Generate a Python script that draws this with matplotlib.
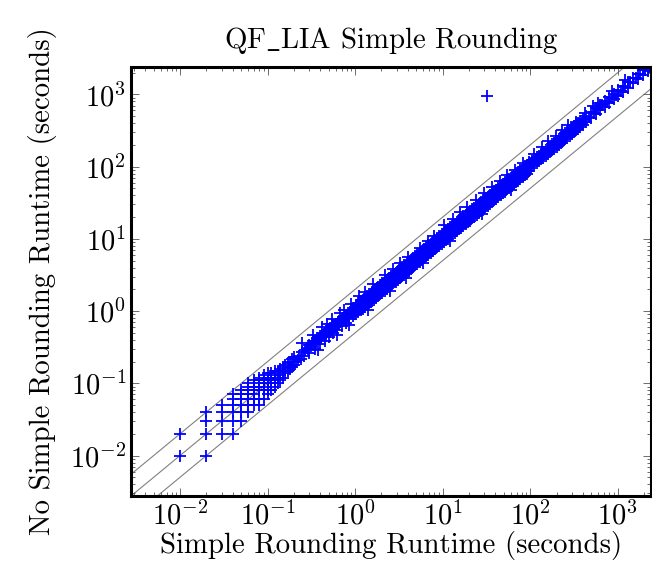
import numpy as np
import matplotlib
matplotlib.use("Agg")
import matplotlib.pyplot as plt
from matplotlib.ticker import LogLocator, NullFormatter

plt.rcParams['font.family'] = 'serif'
plt.rcParams['font.serif'] = ['cmr10']
plt.rcParams['mathtext.fontset'] = 'cm'
plt.rcParams['axes.formatter.use_mathtext'] = True

title = r'QF$\_$LIA Simple Rounding'
xlabel = 'Simple Rounding Runtime (seconds)'
ylabel = 'No Simple Rounding Runtime (seconds)'
tick_vals = [1e-2, 1e-1, 1e0, 1e1, 1e2, 1e3]

# fast instances, times quantized to 0.01 s
x_fast = [0.01, 0.01, 0.02, 0.02, 0.02, 0.02, 0.03, 0.03, 0.03, 0.03,
          0.04, 0.04, 0.04, 0.04, 0.04, 0.04, 0.05, 0.05, 0.05, 0.05, 0.05, 0.05,
          0.06, 0.06, 0.06, 0.06, 0.06, 0.06, 0.06, 0.07, 0.07, 0.07, 0.07, 0.07, 0.07,
          0.08, 0.08, 0.08, 0.08, 0.08, 0.08, 0.08, 0.09, 0.09, 0.09, 0.09, 0.09, 0.09,
          0.1, 0.1, 0.1, 0.1, 0.1, 0.1, 0.11, 0.11, 0.11, 0.11, 0.12, 0.12, 0.12, 0.12,
          0.13, 0.13, 0.13, 0.14, 0.14, 0.14, 0.15, 0.15, 0.15, 0.16, 0.16, 0.17, 0.17,
          0.18, 0.18, 0.19, 0.19, 0.2, 0.2, 0.21, 0.22, 0.23, 0.24, 0.25, 0.26, 0.27]
y_fast = [0.01, 0.02, 0.01, 0.02, 0.03, 0.04, 0.02, 0.03, 0.04, 0.05,
          0.02, 0.03, 0.04, 0.05, 0.06, 0.07, 0.03, 0.04, 0.05, 0.06, 0.07, 0.08,
          0.04, 0.05, 0.06, 0.07, 0.08, 0.09, 0.1, 0.05, 0.06, 0.07, 0.08, 0.09, 0.11,
          0.05, 0.06, 0.08, 0.09, 0.1, 0.11, 0.12, 0.06, 0.08, 0.09, 0.1, 0.11, 0.13,
          0.07, 0.08, 0.1, 0.11, 0.12, 0.14, 0.08, 0.1, 0.12, 0.14, 0.09, 0.11, 0.13, 0.15,
          0.1, 0.12, 0.15, 0.11, 0.13, 0.16, 0.12, 0.15, 0.17, 0.14, 0.18, 0.15, 0.19,
          0.16, 0.2, 0.17, 0.22, 0.18, 0.23, 0.2, 0.21, 0.24, 0.22, 0.27, 0.24, 0.29]

x_d0 = [0.28, 0.3, 0.32, 0.33, 0.35, 0.37, 0.38, 0.4, 0.42, 0.45, 0.47, 0.5, 0.52,
        0.55, 0.58, 0.6, 0.63, 0.66, 0.7, 0.73, 0.77, 0.8, 0.84, 0.88, 0.92, 0.96,
        0.3, 0.35, 0.4, 0.45, 0.5, 0.56, 0.62, 0.7, 0.78, 0.86, 0.95]
y_d0 = [0.31, 0.34, 0.35, 0.38, 0.39, 0.42, 0.43, 0.45, 0.47, 0.5, 0.53, 0.56, 0.58,
        0.62, 0.64, 0.67, 0.7, 0.74, 0.78, 0.81, 0.86, 0.89, 0.93, 0.98, 1.02, 1.06,
        0.26, 0.3, 0.35, 0.39, 0.44, 0.49, 0.55, 0.62, 0.69, 0.77, 0.85]
x_d0b = [0.25, 0.33, 0.42, 0.48, 0.55, 0.68, 0.75, 0.9, 0.38, 0.62, 0.85]
y_d0b = [0.36, 0.47, 0.6, 0.66, 0.78, 0.95, 1.05, 1.25, 0.29, 0.47, 0.64]
x_d0m = [0.29, 0.31, 0.34, 0.36, 0.39, 0.41, 0.44, 0.46, 0.49, 0.51, 0.54, 0.57,
         0.59, 0.62, 0.65, 0.68, 0.72, 0.75, 0.79, 0.82, 0.86, 0.9, 0.94, 0.98]
y_d0m = [0.3, 0.33, 0.36, 0.37, 0.41, 0.42, 0.46, 0.47, 0.51, 0.52, 0.56, 0.59,
         0.6, 0.64, 0.67, 0.7, 0.74, 0.77, 0.82, 0.84, 0.89, 0.93, 0.97, 1.01]

x_d1 = [1.0, 1.06, 1.12, 1.19, 1.26, 1.33, 1.41, 1.5, 1.58, 1.68, 1.78, 1.88, 2.0,
        2.11, 2.24, 2.37, 2.51, 2.66, 2.82, 2.99, 3.16, 3.35, 3.55, 3.76, 3.98, 4.22,
        4.47, 4.73, 5.01, 5.31, 5.62, 5.96, 6.31, 6.68, 7.08, 7.5, 7.94, 8.41, 8.91, 9.44]
y_d1a = [1.1, 1.2, 1.3, 1.25, 1.4, 1.5, 1.45, 1.7, 1.75, 1.8, 2.1, 2.0, 2.3,
         2.4, 2.5, 2.6, 2.9, 3.0, 3.1, 3.4, 3.6, 3.7, 4.0, 4.2, 4.4, 4.8,
         5.0, 5.3, 5.6, 5.9, 6.3, 6.6, 7.0, 7.5, 7.8, 8.4, 8.8, 9.4, 9.9, 10.5]
y_d1b = [0.9, 1.0, 1.05, 1.1, 1.15, 1.2, 1.3, 1.35, 1.5, 1.55, 1.6, 1.75, 1.8,
         1.95, 2.1, 2.2, 2.3, 2.45, 2.6, 2.8, 2.9, 3.1, 3.3, 3.5, 3.6, 3.9,
         4.1, 4.4, 4.6, 4.9, 5.2, 5.5, 5.8, 6.2, 6.5, 6.9, 7.3, 7.8, 8.2, 8.7]
x_d1m = [1.03, 1.09, 1.16, 1.22, 1.29, 1.37, 1.45, 1.54, 1.63, 1.73, 1.83, 1.94, 2.05,
         2.17, 2.3, 2.44, 2.58, 2.74, 2.9, 3.07, 3.26, 3.45, 3.65, 3.87, 4.1, 4.34,
         4.6, 4.87, 5.16, 5.46, 5.79, 6.13, 6.49, 6.87, 7.29, 7.72, 8.18, 8.66, 9.17, 9.72]
y_d1m = [1.06, 1.08, 1.2, 1.24, 1.3, 1.42, 1.47, 1.58, 1.66, 1.78, 1.86, 1.98, 2.1,
         2.2, 2.36, 2.48, 2.64, 2.78, 2.98, 3.12, 3.34, 3.5, 3.74, 3.93, 4.2, 4.42,
         4.7, 4.95, 5.3, 5.55, 5.9, 6.25, 6.65, 7.0, 7.45, 7.85, 8.35, 8.8, 9.4, 9.9]
y_d1e = [1.22, 1.29, 1.37, 1.44, 1.52, 1.62, 1.71, 1.82, 1.92, 2.04, 2.16, 2.29, 2.42,
         2.56, 2.71, 2.88, 3.04, 3.23, 3.42, 3.62, 3.85, 4.07, 4.31, 4.57, 4.84, 5.12,
         5.43, 5.75, 6.09, 6.44, 6.83, 7.23, 7.66, 8.11, 8.6, 9.11, 9.65, 10.2, 10.8, 11.5]
y_d1f = [0.91, 0.96, 1.02, 1.07, 1.14, 1.21, 1.28, 1.36, 1.43, 1.52, 1.61, 1.71, 1.8,
         1.91, 2.02, 2.15, 2.27, 2.41, 2.55, 2.7, 2.87, 3.04, 3.21, 3.41, 3.61, 3.82,
         4.05, 4.29, 4.54, 4.8, 5.1, 5.39, 5.71, 6.05, 6.42, 6.79, 7.2, 7.62, 8.07, 8.55]
x_d1c = [1.1, 1.3, 1.6, 2.2, 2.7, 3.3, 4.0, 5.5, 6.8, 8.0, 1.4, 2.5, 3.8, 6.0]
y_d1c = [1.6, 1.85, 2.4, 3.2, 3.8, 4.7, 5.6, 7.5, 9.3, 11.0, 1.05, 1.9, 2.9, 4.6]

x_d2 = [10.0, 10.6, 11.2, 11.9, 12.6, 13.3, 14.1, 15.0, 15.8, 16.8, 17.8, 18.8, 20.0,
        21.1, 22.4, 23.7, 25.1, 26.6, 28.2, 29.9, 31.6, 33.5, 35.5, 37.6, 39.8, 42.2,
        44.7, 47.3, 50.1, 53.1, 56.2, 59.6, 63.1, 66.8, 70.8, 75.0, 79.4, 84.1, 89.1, 94.4]
y_d2a = [11.2, 11.8, 12.6, 13.1, 14.0, 14.9, 15.6, 16.8, 17.4, 18.7, 19.8, 20.5, 22.3,
         23.4, 24.8, 26.1, 28.0, 29.4, 31.0, 33.2, 35.1, 36.8, 39.3, 41.5, 43.8, 46.9,
         49.5, 52.0, 55.5, 58.6, 62.0, 65.9, 69.5, 74.0, 78.0, 83.0, 87.5, 93.0, 98.0, 104.0]
y_d2b = [9.2, 9.9, 10.4, 11.0, 11.6, 12.4, 13.0, 13.8, 14.6, 15.6, 16.4, 17.5, 18.4,
         19.6, 20.7, 21.9, 23.2, 24.6, 26.1, 27.6, 29.3, 31.0, 32.8, 34.8, 36.9, 39.0,
         41.3, 43.8, 46.4, 49.1, 52.0, 55.1, 58.4, 61.8, 65.5, 69.4, 73.5, 77.8, 82.4, 87.3]
x_d2m = [10.3, 10.9, 11.6, 12.2, 12.9, 13.7, 14.5, 15.4, 16.3, 17.3, 18.3, 19.4, 20.5,
         21.7, 23.0, 24.4, 25.8, 27.4, 29.0, 30.7, 32.6, 34.5, 36.5, 38.7, 41.0, 43.4,
         46.0, 48.7, 51.6, 54.6, 57.9, 61.3, 64.9, 68.7, 72.9, 77.2, 81.8, 86.6, 91.7, 97.2]
y_d2m = [10.5, 11.3, 11.8, 12.6, 13.4, 14.1, 15.0, 15.8, 16.9, 17.8, 18.9, 20.0, 21.2,
         22.3, 23.8, 25.1, 26.7, 28.2, 30.0, 31.6, 33.7, 35.5, 37.8, 39.8, 42.4, 44.7,
         47.6, 50.2, 53.4, 56.2, 59.9, 63.1, 67.2, 70.8, 75.4, 79.5, 84.6, 89.2, 94.9, 100.0]
y_d2e = [12.1, 13.0, 13.6, 14.5, 15.1, 16.3, 17.0, 18.3, 19.1, 20.5, 21.4, 23.0, 24.0,
         25.7, 27.0, 28.9, 30.2, 32.5, 34.0, 36.4, 38.2, 40.9, 42.8, 45.9, 48.0, 51.5,
         53.8, 57.7, 60.4, 64.7, 67.7, 72.6, 75.9, 81.4, 85.1, 91.2, 95.4, 102.0, 107.0, 115.0]
y_d2f = [9.0, 9.7, 10.1, 10.8, 11.3, 12.1, 12.7, 13.7, 14.2, 15.3, 16.0, 17.2, 17.9,
         19.2, 20.1, 21.6, 22.6, 24.3, 25.3, 27.2, 28.4, 30.6, 31.9, 34.3, 35.8, 38.5,
         40.2, 43.2, 45.1, 48.4, 50.6, 54.3, 56.7, 60.9, 63.6, 68.3, 71.3, 76.6, 80.0, 86.0]
x_d2c = [10.5, 13.0, 16.0, 19.0, 24.0, 30.0, 37.0, 45.0, 55.0, 68.0, 82.0, 12.0, 28.0, 60.0]
y_d2c = [15.5, 19.0, 23.5, 27.5, 35.0, 43.5, 53.0, 63.0, 76.0, 90.0, 112.0, 9.4, 22.0, 47.0]

x_d3 = [100.0, 106.0, 112.0, 119.0, 126.0, 133.0, 141.0, 150.0, 158.0, 168.0, 178.0,
        188.0, 200.0, 211.0, 224.0, 237.0, 251.0, 266.0, 282.0, 299.0, 316.0, 335.0,
        355.0, 376.0, 398.0, 440.0, 500.0, 560.0, 630.0, 710.0, 800.0, 900.0, 1000.0,
        1150.0, 1300.0, 1500.0, 1700.0, 1950.0, 2200.0]
y_d3a = [112.0, 119.0, 128.0, 135.0, 142.0, 150.0, 160.0, 170.0, 180.0, 190.0, 205.0,
         214.0, 226.0, 240.0, 256.0, 270.0, 288.0, 300.0, 322.0, 340.0, 360.0, 385.0,
         405.0, 430.0, 455.0, 505.0, 570.0, 640.0, 720.0, 810.0, 910.0, 1030.0, 1140.0,
         1300.0, 1480.0, 1700.0, 1920.0, 2200.0, 2400.0]
y_d3b = [95.0, 101.0, 107.0, 113.0, 119.0, 126.0, 133.0, 142.0, 150.0, 159.0, 168.0,
         178.0, 190.0, 200.0, 212.0, 225.0, 238.0, 252.0, 267.0, 284.0, 300.0, 318.0,
         336.0, 357.0, 378.0, 418.0, 475.0, 530.0, 600.0, 675.0, 760.0, 855.0, 950.0,
         1090.0, 1240.0, 1420.0, 1620.0, 1850.0, 2100.0]
x_d3m = [103.0, 109.0, 116.0, 122.0, 129.0, 137.0, 145.0, 154.0, 163.0, 173.0, 183.0,
         194.0, 205.0, 217.0, 230.0, 244.0, 258.0, 274.0, 290.0, 307.0, 326.0, 345.0,
         365.0, 387.0, 420.0, 470.0, 530.0, 600.0, 670.0, 750.0, 850.0, 950.0, 1080.0,
         1220.0, 1400.0, 1600.0, 1820.0, 2050.0, 2300.0]
y_d3m = [108.0, 114.0, 122.0, 128.0, 135.0, 144.0, 152.0, 162.0, 171.0, 182.0, 192.0,
         204.0, 215.0, 228.0, 242.0, 256.0, 271.0, 288.0, 305.0, 322.0, 342.0, 362.0,
         383.0, 406.0, 441.0, 494.0, 556.0, 630.0, 704.0, 788.0, 892.0, 998.0, 1134.0,
         1281.0, 1470.0, 1680.0, 1911.0, 2152.0, 2400.0]
x_d3c = [110.0, 135.0, 160.0, 195.0, 230.0, 270.0, 330.0, 420.0, 520.0, 600.0, 850.0, 1200.0]
y_d3c = [150.0, 185.0, 230.0, 270.0, 320.0, 380.0, 420.0, 560.0, 700.0, 760.0, 1100.0, 1600.0]

# the one outlier
x_out = [32.0]
y_out = [950.0]

xs = (x_fast + x_d0 + x_d0b + x_d0m + x_d1 + x_d1 + x_d1m + x_d1m + x_d1m + x_d1c
      + x_d2 + x_d2 + x_d2m + x_d2m + x_d2m + x_d2c + x_d3 + x_d3 + x_d3m + x_d3c + x_out)
ys = (y_fast + y_d0 + y_d0b + y_d0m + y_d1a + y_d1b + y_d1m + y_d1e + y_d1f + y_d1c
      + y_d2a + y_d2b + y_d2m + y_d2e + y_d2f + y_d2c + y_d3a + y_d3b + y_d3m + y_d3c + y_out)

lo, hi = 0.00275, 2400

fig = plt.figure(figsize=(6.52, 5.81), dpi=100)
ax = fig.add_axes([0.2009, 0.1463, 0.7975, 0.7384])
ax.set_xscale('log')
ax.set_yscale('log')

for p1, p2 in [((1, 1), (10, 10)), ((1, 2), (10, 20)), ((1, 0.5), (10, 5))]:
    ax.axline(p1, p2, color='gray', lw=0.8, zorder=1)

ax.plot(xs, ys, linestyle='none', marker='+', ms=9, mew=1.3, color='blue', zorder=2)

ax.set_xticks(tick_vals)
ax.set_yticks(tick_vals)
for a in (ax.xaxis, ax.yaxis):
    a.set_minor_locator(LogLocator(base=10, subs=np.arange(2, 10), numticks=12))
    a.set_minor_formatter(NullFormatter())
ax.set_xlim(lo, hi)
ax.set_ylim(lo, hi)

ax.tick_params(which='both', direction='in', top=True, right=True, labelsize=20.5, width=0.6, color='#555555')
ax.tick_params(which='major', length=6)
ax.tick_params(which='minor', length=3)
for s in ax.spines.values():
    s.set_linewidth(2.2)

ax.set_title(title, fontsize=20.8, pad=14)
ax.set_xlabel(xlabel, fontsize=20.8, labelpad=1)
ax.set_ylabel(ylabel, fontsize=20.8, labelpad=9)

fig.savefig('out.png', dpi=100)
